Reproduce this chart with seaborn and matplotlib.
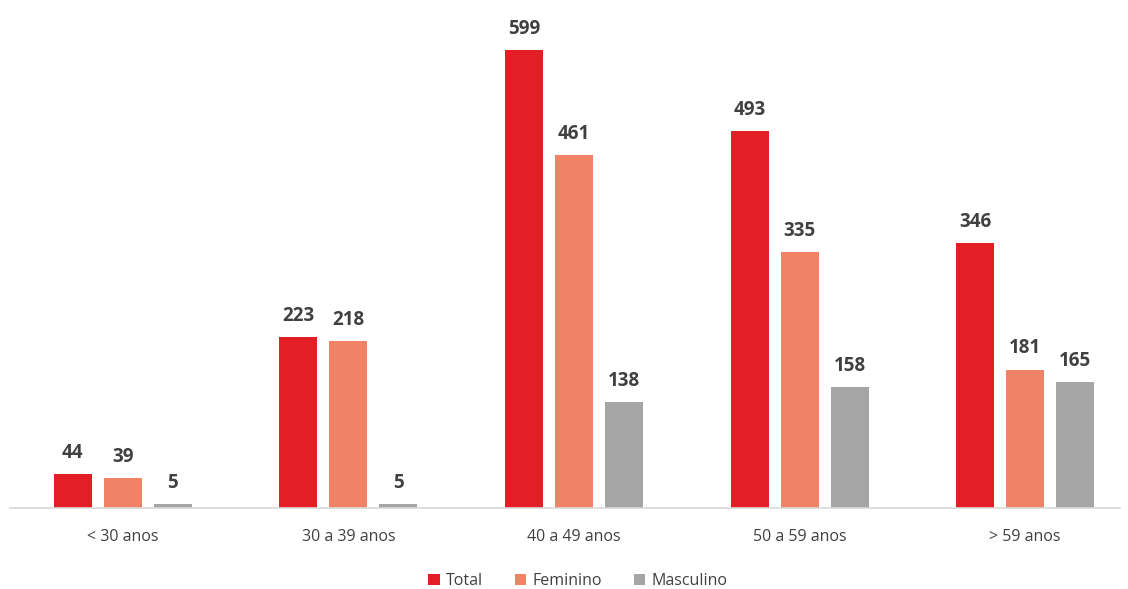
import pandas as pd
import numpy as np
import seaborn as sns
import matplotlib.pyplot as plt

categorias = ['< 30 anos', '30 a 39 anos', '40 a 49 anos', '50 a 59 anos', '> 59 anos']
series = ['Total', 'Feminino', 'Masculino']
total = [44, 223, 599, 493, 346]
feminino = [39, 218, 461, 335, 181]
masculino = [5, 5, 138, 158, 165]
cores = ['#E31E24', '#F08366', '#A5A5A5']

df = pd.DataFrame({'faixa': categorias * 3,
                   'grupo': [s for s in series for _ in categorias],
                   'valor': total + feminino + masculino})

sns.set_style('white')
plt.rcParams['font.family'] = ['Open Sans', 'DejaVu Sans']

fig = plt.figure(figsize=(11.28, 5.89), dpi=100)
ax = fig.add_axes([10 / 1128, 81 / 589, 1110 / 1128, 498 / 589])

sns.barplot(data=df, x='faixa', y='valor', hue='grupo', palette=cores, saturation=1,
            width=0.665, gap=0.24, linewidth=0, ax=ax, legend=True)

for cont in ax.containers:
    ax.bar_label(cont, fmt='%d', padding=8, fontsize=13.5, fontweight='bold', color='#404040')

ax.set_xlim(-0.5, 4.42)
ax.set_ylim(0, 651)
ax.set_xlabel('')
ax.set_ylabel('')
ax.set_yticks([])
ax.tick_params(axis='x', length=0, labelsize=11.5, labelcolor='#404040', pad=15)
for s in ['top', 'right', 'left']:
    ax.spines[s].set_visible(False)
ax.spines['bottom'].set_color('#D9D9D9')
ax.spines['bottom'].set_linewidth(1.2)

ax.legend(loc='center', bbox_to_anchor=(578 / 1128, 8 / 589), bbox_transform=fig.transFigure,
          ncol=3, frameon=False, fontsize=11.5, handlelength=0.7, handleheight=0.7,
          handletextpad=0.4, columnspacing=2.0, labelcolor='#404040')

fig.savefig('out.png', dpi=100)
